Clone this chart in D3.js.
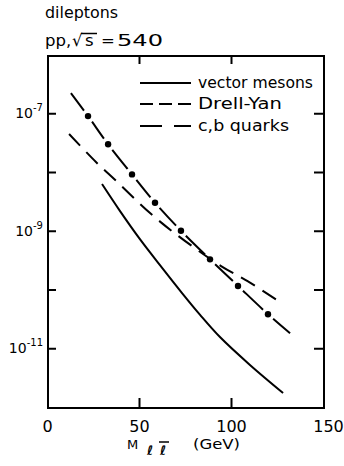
<!DOCTYPE html>
<html><head><meta charset="utf-8">
<script src="https://cdn.jsdelivr.net/npm/d3@7"></script>
<style>
body{margin:0;background:#fff}
svg{display:block;background:#fff}
text{font-family:"DejaVu Sans",sans-serif;fill:#000}
</style>
</head><body>
<svg id="c" width="344" height="466"></svg>
<script>
// ---- data ----
const vmMass  = [29.9, 39.7, 50.5, 61.4, 73.4, 83.2, 94.0, 110.3, 128.3];
const vmValue = [6.24e-9, 2.16e-9, 7.2e-10, 2.6e-10, 8.7e-11, 3.7e-11, 1.55e-11, 5.2e-12, 1.73e-12];

const dyMass  = [12.0, 26.6, 37.5, 56.0, 70.4, 94.6, 109.0, 126.6];
const dyValue = [4.43e-8, 1.48e-8, 7.1e-9, 2.0e-9, 8.6e-10, 2.5e-10, 1.39e-10, 6.1e-11];

const cbMass  = [13.0, 22.3, 33.2, 46.2, 58.7, 72.8, 88.6, 103.8, 120.1, 132.1];
const cbValue = [2.2e-7, 8.95e-8, 2.96e-8, 9.1e-9, 3.0e-9, 1.0e-9, 3.26e-10, 1.15e-10, 3.8e-11, 1.8e-11];

const cbDotMass  = [22.3, 33.2, 46.2, 58.7, 72.8, 88.6, 103.8, 120.1];
const cbDotValue = [8.95e-8, 2.96e-8, 9.1e-9, 3.0e-9, 1.0e-9, 3.26e-10, 1.15e-10, 3.8e-11];

const xTicks = [0, 50, 100, 150];
const yTicks = [1e-7, 1e-8, 1e-9, 1e-10, 1e-11];
const yLabelExps = [-7, -9, -11];
const legendLabels = ["vector mesons", "Drell-Yan", "c,b quarks"];

// ---- layout ----
const svg = d3.select("#c");
const L = 48, R = 324, T = 56, B = 408;
const x = d3.scaleLinear().domain([0, 150]).range([47, 323]);
const y = d3.scaleLog().domain([1e-12, 1e-6]).range([407, 54.5]);

// frame
svg.append("rect").attr("x", L).attr("y", T).attr("width", R - L).attr("height", B - T)
  .attr("fill", "none").attr("stroke", "#000").attr("stroke-width", 2);

function clean(g) {
  g.select(".domain").remove();
  g.selectAll(".tick line").attr("stroke", "#000").attr("stroke-width", 2);
}

// bottom axis
const gb = svg.append("g").attr("transform", `translate(0,${B})`)
  .call(d3.axisBottom(x).tickValues(xTicks).tickSize(-10).tickPadding(13).tickFormat(d3.format("d")));
clean(gb);
gb.selectAll(".tick").filter(d => d === 0 || d === 150).select("line").remove();
gb.selectAll(".tick text").attr("font-size", 16).attr("font-family", "DejaVu Sans").attr("fill", "#000");
gb.selectAll(".tick").filter(d => d === 150).select("text").attr("x", 5);

// top axis
const gt = svg.append("g").attr("transform", `translate(0,${T})`)
  .call(d3.axisTop(x).tickValues([50, 100]).tickSize(-8).tickFormat(""));
clean(gt);

// left axis
const gl = svg.append("g").attr("transform", `translate(${L},0)`)
  .call(d3.axisLeft(y).tickValues(yTicks).tickSize(-8).tickFormat(""));
clean(gl);

// right axis
const gr = svg.append("g").attr("transform", `translate(${R},0)`)
  .call(d3.axisRight(y).tickValues(yTicks).tickSize(-10).tickFormat(""));
clean(gr);

// y labels 10^n
yLabelExps.forEach(e => {
  const t = svg.append("text").attr("x", 43).attr("y", y(Math.pow(10, e)) + 5)
    .attr("text-anchor", "end").attr("font-size", 14)
    .attr("font-family", "Liberation Sans");
  t.append("tspan").text("10");
  t.append("tspan").attr("dy", -7).attr("font-size", 10).text("-" + (-e));
});

// curves
const line = d3.line().x(d => x(d[0])).y(d => y(d[1])).curve(d3.curveCatmullRom.alpha(0.5));

svg.append("path").datum(d3.zip(vmMass, vmValue)).attr("d", line)
  .attr("fill", "none").attr("stroke", "#000").attr("stroke-width", 2);

svg.append("path").datum(d3.zip(dyMass, dyValue)).attr("d", line)
  .attr("fill", "none").attr("stroke", "#000").attr("stroke-width", 2)
  .attr("stroke-dasharray", "16,9");

const cbPath = svg.append("path").datum(d3.zip(cbMass, cbValue)).attr("d", line)
  .attr("fill", "none").attr("stroke", "#000").attr("stroke-width", 2);

// dash pattern for c,b curve: gaps around each dot
(function () {
  const node = cbPath.node();
  const total = node.getTotalLength();
  const g = 7;
  const lens = cbDotMass.map(m => {
    const px = x(m);
    let lo = 0, hi = total;
    for (let i = 0; i < 40; i++) {
      const mid = (lo + hi) / 2;
      if (node.getPointAtLength(mid).x < px) lo = mid; else hi = mid;
    }
    return (lo + hi) / 2;
  });
  const arr = [];
  let pos = 0;
  lens.forEach(Lk => {
    arr.push(Math.max(0, Lk - g - pos));
    arr.push(2 * g);
    pos = Lk + g;
  });
  arr.push(Math.max(0, total - pos));
  arr.push(total);
  cbPath.attr("stroke-dasharray", arr.join(","));
})();

svg.selectAll(".cbdot").data(d3.zip(cbDotMass, cbDotValue)).join("circle")
  .attr("cx", d => x(d[0])).attr("cy", d => y(d[1])).attr("r", 3.2).attr("fill", "#000");

// legend
const legY = [83, 104, 126];
const legDash = [null, "13,6", "22,12"];
const legW = [115, 84, 91];
legendLabels.forEach((lab, i) => {
  const l = svg.append("line").attr("x1", 140).attr("x2", 191).attr("y1", legY[i]).attr("y2", legY[i])
    .attr("stroke", "#000").attr("stroke-width", 2);
  if (legDash[i]) l.attr("stroke-dasharray", legDash[i]);
  svg.append("text").attr("x", 198).attr("y", legY[i] + 5).attr("font-size", 15)
    .attr("textLength", legW[i]).attr("lengthAdjust", "spacingAndGlyphs").text(lab);
});

// titles
svg.append("text").attr("x", 45).attr("y", 18).attr("font-size", 16)
  .attr("textLength", 73).attr("lengthAdjust", "spacingAndGlyphs").text("dileptons");
const tt = svg.append("text").attr("y", 46).attr("font-size", 16.5);
tt.append("tspan").attr("x", 45).text("pp,");
tt.append("tspan").attr("x", 72).text("√");
tt.append("tspan").attr("x", 85).text("s");
tt.append("tspan").attr("x", 101).text("=");
tt.append("tspan").attr("x", 117).attr("textLength", 46).attr("lengthAdjust", "spacingAndGlyphs").text("540");
svg.append("line").attr("x1", 81).attr("x2", 97).attr("y1", 33.5).attr("y2", 33.5)
  .attr("stroke", "#000").attr("stroke-width", 1.5);

// x axis title
svg.append("text").attr("x", 127).attr("y", 449).attr("font-size", 13).text("M");
svg.append("text").attr("x", 147).attr("y", 455).attr("font-size", 13).attr("font-weight", "bold").text("ℓ");
svg.append("text").attr("x", 160).attr("y", 455).attr("font-size", 13).attr("font-weight", "bold").text("ℓ");
svg.append("line").attr("x1", 159).attr("x2", 169).attr("y1", 442).attr("y2", 442)
  .attr("stroke", "#000").attr("stroke-width", 1.5);
svg.append("text").attr("x", 193).attr("y", 449).attr("font-size", 13.5)
  .attr("textLength", 47).attr("lengthAdjust", "spacingAndGlyphs").text("(GeV)");
</script>
</body></html>
